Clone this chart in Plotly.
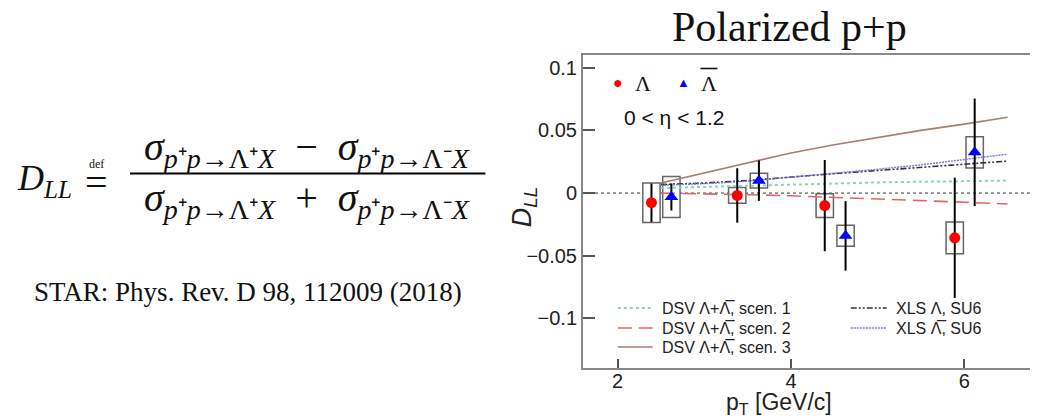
import plotly.graph_objects as go

# ---------------- data ----------------
lam_pt = [2.39, 3.38, 4.39, 5.89]
lam_dll = [-0.0077, -0.0019, -0.0100, -0.0357]
lam_stat = [0.0153, 0.0217, 0.0364, 0.0480]
lam_sys = [0.0157, 0.0063, 0.0095, 0.0127]

alam_pt = [2.62, 3.63, 4.63, 6.12]
alam_dll = [-0.0031, 0.0099, -0.0341, 0.0325]
alam_stat = [0.0108, 0.0161, 0.0277, 0.0429]
alam_sys = [0.0164, 0.0059, 0.0084, 0.0125]

theory_pt = [2.5, 3.0, 3.5, 4.0, 4.5, 5.0, 5.5, 6.0, 6.5]
dsv_scen1 = [0.0040, 0.0050, 0.0060, 0.0070, 0.0078, 0.0085, 0.0090, 0.0096, 0.0100]
dsv_scen2 = [0.0000, -0.0005, -0.0013, -0.0022, -0.0033, -0.0045, -0.0060, -0.0073, -0.0087]
dsv_scen3 = [0.0080, 0.0160, 0.0245, 0.0320, 0.0385, 0.0445, 0.0500, 0.0550, 0.0605]
xls_lam = [0.0068, 0.0080, 0.0100, 0.0130, 0.0155, 0.0180, 0.0205, 0.0228, 0.0255]
xls_alam = [0.0062, 0.0075, 0.0095, 0.0125, 0.0155, 0.0190, 0.0225, 0.0265, 0.0310]

x_ticks = [2, 4, 6]
y_ticks = [0.1, 0.05, 0, -0.05, -0.1]
y_tick_text = ["0.1", "0.05", "0", "\u22120.05", "\u22120.1"]

# ---------------- layout geometry ----------------
OFF = 8  # default page body margin
W, H = 1038 - OFF, 420 - OFF
ML, MR, MT, MB = 583 - OFF, 5, 55 - OFF, 412 - (368 - OFF)
PW, PH = W - ML - MR, H - MT - MB


def px(x):
    return (x - OFF - ML) / PW


def py(y):
    return (H - MB - (y - OFF)) / PH


SANS = "Liberation Sans, Arial, sans-serif"
SERIF = "Liberation Serif, Times New Roman, serif"
MATH = "Liberation Serif, Times New Roman, serif"

curve_styles = [
    ("DSV \u039b+\u039b\u0305, scen. 1", dsv_scen1, "#8ed3b4", "dot", 2.0),
    ("DSV \u039b+\u039b\u0305, scen. 2", dsv_scen2, "#e06666", "14px,7px", 1.6),
    ("DSV \u039b+\u039b\u0305, scen. 3", dsv_scen3, "#a47f72", "solid", 1.6),
    ("XLS \u039b, SU6", xls_lam, "#333333", "6px,2px,2px,2px,2px,2px", 1.6),
    ("XLS \u039b\u0305, SU6", xls_alam, "#7474ee", "2px,1px", 1.4),
]

fig = go.Figure()

for name, ys, col, dash, wd in curve_styles:
    fig.add_trace(go.Scatter(x=theory_pt, y=ys, mode="lines", name=name,
                             line=dict(color=col, dash=dash, width=wd),
                             showlegend=False, hoverinfo="skip"))

# systematic boxes
for pts, vals, sys in [(lam_pt, lam_dll, lam_sys), (alam_pt, alam_dll, alam_sys)]:
    fig.add_trace(go.Bar(x=pts, y=[2 * s for s in sys],
                         base=[v - s for v, s in zip(vals, sys)],
                         width=0.2, marker=dict(color="white",
                                                line=dict(color="#666666", width=1.5)),
                         showlegend=False, hoverinfo="skip"))

# data points with stat errors
fig.add_trace(go.Scatter(x=lam_pt, y=lam_dll, mode="markers", name="\u039b",
                         marker=dict(symbol="circle", size=11, color="#ff0000"),
                         error_y=dict(type="data", array=lam_stat, color="black",
                                      thickness=2, width=0),
                         showlegend=False))
fig.add_trace(go.Scatter(x=alam_pt, y=alam_dll, mode="markers", name="\u039b\u0305",
                         marker=dict(symbol="triangle-up", size=12, color="#0000ff"),
                         error_y=dict(type="data", array=alam_stat, color="black",
                                      thickness=2, width=0),
                         showlegend=False))

shapes = [
    dict(type="line", xref="paper", yref="y", x0=0, x1=1, y0=0, y1=0,
         line=dict(color="#333", width=1, dash="3px,3px"), layer="below"),
    # fraction bar
    dict(type="line", xref="paper", yref="paper", x0=px(128), x1=px(485),
         y0=py(173.5), y1=py(173.5), line=dict(color="black", width=2)),
    # overline of the anti-Lambda legend symbol
    dict(type="line", xref="paper", yref="paper", x0=px(701), x1=px(718),
         y0=py(68.5), y1=py(68.5), line=dict(color="#111", width=1.6)),
]

annotations = []


def txt(text, x, y, size, family=SANS, color="#111", xanchor="center",
        yanchor="middle", textangle=0):
    annotations.append(dict(text=text, x=px(x), y=py(y), xref="paper", yref="paper",
                            showarrow=False, font=dict(size=size, family=family, color=color),
                            xanchor=xanchor, yanchor=yanchor, textangle=textangle))


# title and left-hand text
txt("Polarized p+p", 790, 27, 42, family=SERIF, color="#111")
txt("<i>D</i><sub><i>LL</i></sub>", 12, 180, 36, family=MATH, color="#111", xanchor="left")
txt("def", 94, 164, 12, family=MATH, color="#111")
txt("=", 94, 182, 40, family=MATH, color="#111")
sp = "\u2002"
num = ("<i>\u03c3</i><sub><i>p</i>\u207a<i>p</i>\u2192\u039b\u207a<i>X</i></sub>"
       + sp + "\u2212" + sp +
       "<i>\u03c3</i><sub><i>p</i>\u207a<i>p</i>\u2192\u039b\u207b<i>X</i></sub>")
den = ("<i>\u03c3</i><sub><i>p</i>\u207a<i>p</i>\u2192\u039b\u207a<i>X</i></sub>"
       + sp + "+" + sp +
       "<i>\u03c3</i><sub><i>p</i>\u207a<i>p</i>\u2192\u039b\u207b<i>X</i></sub>")
txt(num, 306, 149, 40, family=MATH, color="#111")
txt(den, 306, 200, 40, family=MATH, color="#111")
txt("STAR: Phys. Rev. D 98, 112009 (2018)", 247, 292, 27, family=SERIF, color="#111")

# axis titles
txt("p<sub>T</sub> [GeV/c]", 780, 403, 23, color="#222")
txt("<i>D</i><sub><i>LL</i></sub>", 524, 207, 27, color="#222", textangle=-90)

# in-plot legend (data)
txt("\u25cf", 618, 82, 16, color="#ff0000")
txt("\u039b", 643, 83, 22, family=SERIF, color="#111")
txt("\u25b2", 684, 82, 13, color="#0000ff")
txt("\u039b", 710, 83, 22, family=SERIF, color="#111")
txt("0 < \u03b7 < 1.2", 622, 118, 21, color="#111", xanchor="left")

# theory legend
leg_pos = [(618, 653, 660, 308), (618, 653, 660, 328), (618, 653, 660, 347),
           (852, 888, 895, 308), (852, 888, 895, 328)]
for (name, ys, col, dash, wd), (x0, x1, xt, yy) in zip(curve_styles, leg_pos):
    shapes.append(dict(type="line", xref="paper", yref="paper", x0=px(x0), x1=px(x1),
                       y0=py(yy), y1=py(yy), line=dict(color=col, dash=dash, width=wd)))
    txt(name, xt, yy, 16, color="#222", xanchor="left")

fig.update_layout(
    width=W, height=H,
    margin=dict(l=ML, r=MR, t=MT, b=MB),
    paper_bgcolor="white", plot_bgcolor="white",
    barmode="overlay", showlegend=False,
    shapes=shapes, annotations=annotations,
    xaxis=dict(range=[1.6, 6.77], tickvals=x_ticks, ticktext=[str(v) for v in x_ticks],
               ticks="inside", ticklen=9, tickwidth=1.5, tickcolor="#555",
               ticklabelstandoff=-6,
               showline=True, mirror=True, linecolor="#888", linewidth=2,
               showgrid=False, zeroline=False,
               tickfont=dict(size=20, family=SANS, color="#222")),
    yaxis=dict(range=[-0.1395, 0.1101], tickvals=y_ticks, ticktext=y_tick_text,
               ticks="inside", ticklen=12, tickwidth=1.5, tickcolor="#555",
               showline=True, mirror=True, linecolor="#888", linewidth=2,
               showgrid=False, zeroline=False,
               tickfont=dict(size=20, family=SANS, color="#222")),
)

fig.write_html("out.html")
